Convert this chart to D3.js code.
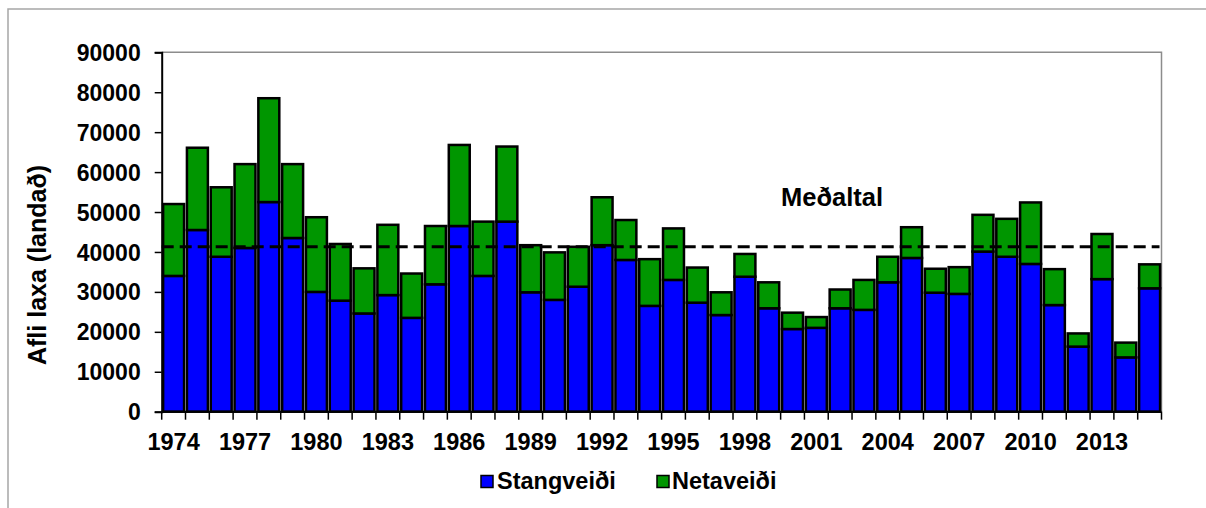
<!DOCTYPE html>
<html><head><meta charset="utf-8">
<script src="https://cdn.jsdelivr.net/npm/d3@7"></script>
<style>
html,body{margin:0;padding:0;background:#fff;}
svg text{font-family:"Liberation Sans",Arial,sans-serif;font-weight:bold;fill:#000;}
</style></head>
<body>
<svg id="c" width="1206" height="508"></svg>
<script>
const years = d3.range(1974, 2016);
const stangveidi = [34000,45500,38800,41000,52500,43500,30000,27800,24600,29200,23500,31900,46500,34000,47600,29900,28000,31300,41700,38000,26500,
  33000,27300,24200,33800,25900,20700,21000,25900,25500,32400,38500,29800,29500,40100,38800,37000,26700,16300,33200,13600,30900];
const heildarafli = [52000,66100,56200,62000,78500,62000,48700,42000,35900,46800,34600,46500,66800,47600,66400,41700,39900,41300,53700,48000,38200,
  45900,36100,29900,39500,32400,24800,23700,30600,33000,38800,46200,35800,36200,49300,48300,52400,35700,19600,44500,17300,36900];
const netaveidi = heildarafli.map((t,i)=>t - stangveidi[i]);
const medaltal = 41300;
const yTicks = d3.range(0, 90001, 10000);
const xTickLabels = d3.range(1974, 2016, 3);
const seriesNames = ["Stangveiði","Netaveiði"];
const seriesColors = ["#0000ff","#009600"];

const svg = d3.select("#c");
const L = 161.7, R = 1161.5, T = 52.3, B = 411.7;

svg.append("path").attr("d","M8,508V9H1206").attr("fill","none").attr("stroke","#a6a6a6").attr("stroke-width",1.5);

const x = d3.scaleBand().domain(years).range([L,R]).paddingInner(0.12).paddingOuter(0.06);
const xEdge = d3.scaleLinear().domain([0, years.length]).range([L,R]);
const y = d3.scaleLinear().domain([0,90000]).range([B,T]);

svg.append("path").attr("d",`M${L},${T}H${R}V${B}`).attr("fill","none").attr("stroke","#8c8c8c").attr("stroke-width",1.5);

const stack = d3.stack().keys([0,1]).value((d,k)=> k===0 ? d.s : d.n);
const rows = years.map((yr,i)=>({yr, s:stangveidi[i], n:netaveidi[i]}));
const layers = stack(rows);

layers.forEach((layer,k)=>{
  svg.append("g").selectAll("rect").data(layer).join("rect")
    .attr("x", d=>x(d.data.yr))
    .attr("width", x.bandwidth())
    .attr("y", d=>y(d[1]))
    .attr("height", d=>y(d[0])-y(d[1]))
    .attr("fill", seriesColors[k])
    .attr("stroke","#000").attr("stroke-width",2.5);
});

svg.append("line").attr("x1",L).attr("x2",R-2).attr("y1",y(medaltal)).attr("y2",y(medaltal))
  .attr("stroke","#000").attr("stroke-width",3).attr("stroke-dasharray","12,6");
svg.append("text").attr("x",781).attr("y",206).attr("font-size",25.5).text("Meðaltal");

const yAxis = d3.axisLeft(y).tickValues(yTicks).tickSize(7).tickPadding(14).tickFormat(d3.format("d"));
const gy = svg.append("g").attr("transform",`translate(${L},0)`).call(yAxis);
gy.select(".domain").attr("stroke","#000").attr("stroke-width",2);
gy.selectAll(".tick line").attr("stroke","#000").attr("stroke-width",1.5);
gy.selectAll(".tick text").attr("font-size",23).attr("font-family","Liberation Sans, Arial, sans-serif").attr("font-weight","bold").attr("fill","#000").attr("dy","0.35em");

const gx = svg.append("g").attr("transform",`translate(0,${B})`);
gx.append("line").attr("x1",L).attr("x2",R).attr("stroke","#000").attr("stroke-width",2);
gx.selectAll("line.t").data(d3.range(0, years.length+1)).join("line").attr("class","t")
  .attr("x1",d=>xEdge(d)).attr("x2",d=>xEdge(d)).attr("y1",0).attr("y2",8)
  .attr("stroke","#000").attr("stroke-width",1.5);
gx.selectAll("text").data(xTickLabels).join("text")
  .attr("x",d=>x(d)+x.bandwidth()/2).attr("y",38).attr("text-anchor","middle")
  .attr("font-size",23.5).text(d=>d);

svg.append("text").attr("transform","translate(46,265) rotate(-90)").attr("text-anchor","middle")
  .attr("font-size",25).text("Afli laxa (landað)");

const leg = [{x:481, tx:497},{x:657, tx:672}];
seriesNames.forEach((nm,k)=>{
  svg.append("rect").attr("x",leg[k].x).attr("y",475.5).attr("width",12).attr("height",12)
    .attr("fill",seriesColors[k]).attr("stroke","#000").attr("stroke-width",1.5);
  svg.append("text").attr("x",leg[k].tx).attr("y",489).attr("font-size",23.5).text(nm);
});
</script>
</body></html>
